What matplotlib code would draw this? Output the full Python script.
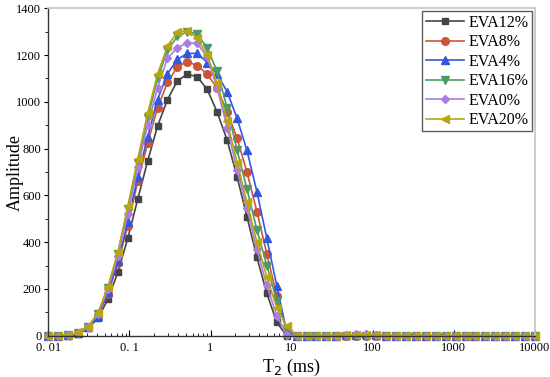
import numpy as np
import matplotlib
matplotlib.use('Agg')
import matplotlib.pyplot as plt
from matplotlib.ticker import FixedLocator, MultipleLocator, LogLocator, NullFormatter

plt.rcParams['font.family'] = ['Liberation Serif', 'DejaVu Serif']

# T2 grid (ms)
t2 = [0.01, 0.013257, 0.017575, 0.0233, 0.030888, 0.040949, 0.054287, 0.071969,
      0.09541, 0.12649, 0.16768, 0.2223, 0.29471, 0.39069, 0.51795, 0.68665,
      0.9103, 1.2068, 1.5999, 2.121, 2.8118, 3.7276, 4.9417, 6.5513, 8.6851,
      11.514, 15.264, 20.236, 26.827, 35.565, 47.149, 62.506, 82.864, 109.85,
      145.63, 193.07, 255.95, 339.32, 449.84, 596.36, 790.6, 1048.1, 1389.5,
      1842.1, 2442.1, 3237.5, 4291.9, 5689.9, 7543.1, 10000]

tail = [0] * 25

eva12 = [0, 0, 0, 8, 32, 74, 156, 271, 416, 583, 747, 896, 1010, 1090,
         1118, 1107, 1053, 956, 837, 680, 509, 335, 181, 57, 0] + tail
eva8 = [0, 0, 1, 10, 36, 85, 180, 310, 470, 660, 822, 975, 1083, 1150,
        1172, 1155, 1118, 1058, 958, 845, 699, 531, 350, 170, 20] + tail
eva4 = [0, 0, 1, 10, 36, 86, 185, 318, 485, 680, 850, 1010, 1120, 1182,
        1207, 1207, 1168, 1118, 1044, 930, 792, 616, 416, 214, 17] + \
       [0, 0, 0, 0, 0, 2, 5, 6, 3] + [0] * 16
eva16 = [0, 0, 2, 13, 38, 95, 203, 350, 540, 740, 930, 1100, 1220, 1280,
         1300, 1290, 1230, 1130, 975, 795, 627, 453, 300, 150, 30] + tail
eva0 = [0, 0, 2, 12, 37, 92, 198, 342, 520, 720, 900, 1060, 1187, 1231,
        1253, 1250, 1190, 1060, 890, 710, 545, 370, 215, 85, 5] + \
       [0, 0, 0, 0, 0, 3, 6, 7, 3] + [0] * 16
eva20 = [0, 0, 2, 14, 38, 98, 209, 357, 553, 754, 951, 1118, 1240, 1297,
         1305, 1272, 1200, 1080, 920, 740, 570, 400, 250, 120, 40] + \
        [0, 0, 0, 0, 0, 2, 3, 3, 2] + [0] * 16

series = [
    ('EVA12%', eva12, '#444444', 's', 5),
    ('EVA8%', eva8, '#cc5538', 'o', 5.5),
    ('EVA4%', eva4, '#3358e0', '^', 5.5),
    ('EVA16%', eva16, '#4c9a68', 'v', 5.5),
    ('EVA0%', eva0, '#a97ce8', 'D', 4.5),
    ('EVA20%', eva20, '#b8a510', '<', 5.5),
]

fig = plt.figure(figsize=(5.5, 3.77), dpi=100)
ax = fig.add_axes([0.0878, 0.1095, 0.885, 0.8685])

for name, vals, col, mk, ms in series:
    ax.plot(t2, vals, color=col, marker=mk, markersize=ms, linewidth=1.2,
            label=name, clip_on=False)

ax.set_xscale('log')
ax.set_xlim(0.01, 10000)
ax.set_ylim(0, 1400)

ax.xaxis.set_major_locator(FixedLocator([0.01, 0.1, 1, 10, 100, 1000, 10000]))
ax.set_xticklabels(['0. 01', '0. 1', '1', '10', '100', '1000', '10000'])
ax.xaxis.set_minor_locator(LogLocator(base=10, subs=np.arange(2, 10)))
ax.xaxis.set_minor_formatter(NullFormatter())
ax.yaxis.set_major_locator(MultipleLocator(200))
ax.yaxis.set_minor_locator(MultipleLocator(100))

ax.tick_params(axis='x', which='both', direction='in', labelsize=9, pad=4.5)
ax.tick_params(axis='x', which='major', length=4)
ax.tick_params(axis='x', which='minor', length=2)
ax.tick_params(axis='y', which='both', direction='out', labelsize=9, pad=2)
ax.tick_params(axis='y', which='major', length=3)
ax.tick_params(axis='y', which='minor', length=2)

for s in ['left', 'bottom']:
    ax.spines[s].set_color('#333333')
    ax.spines[s].set_linewidth(1.0)
for s in ['top', 'right']:
    ax.spines[s].set_color('#c4c4c4')
    ax.spines[s].set_linewidth(1.2)

ax.set_xlabel('T$_2$ (ms)', fontsize=13, labelpad=2)
ax.set_ylabel('Amplitude', fontsize=13)
ax.yaxis.set_label_coords(-0.05, 0.5)

leg = ax.legend(loc='upper right', fontsize=11.5, frameon=True, fancybox=False,
                edgecolor='#333333', handlelength=2.4, handletextpad=0.3,
                labelspacing=0.22, borderpad=0.2, borderaxespad=0.2)
leg.get_frame().set_linewidth(1.0)

fig.savefig('out.png', dpi=100)
